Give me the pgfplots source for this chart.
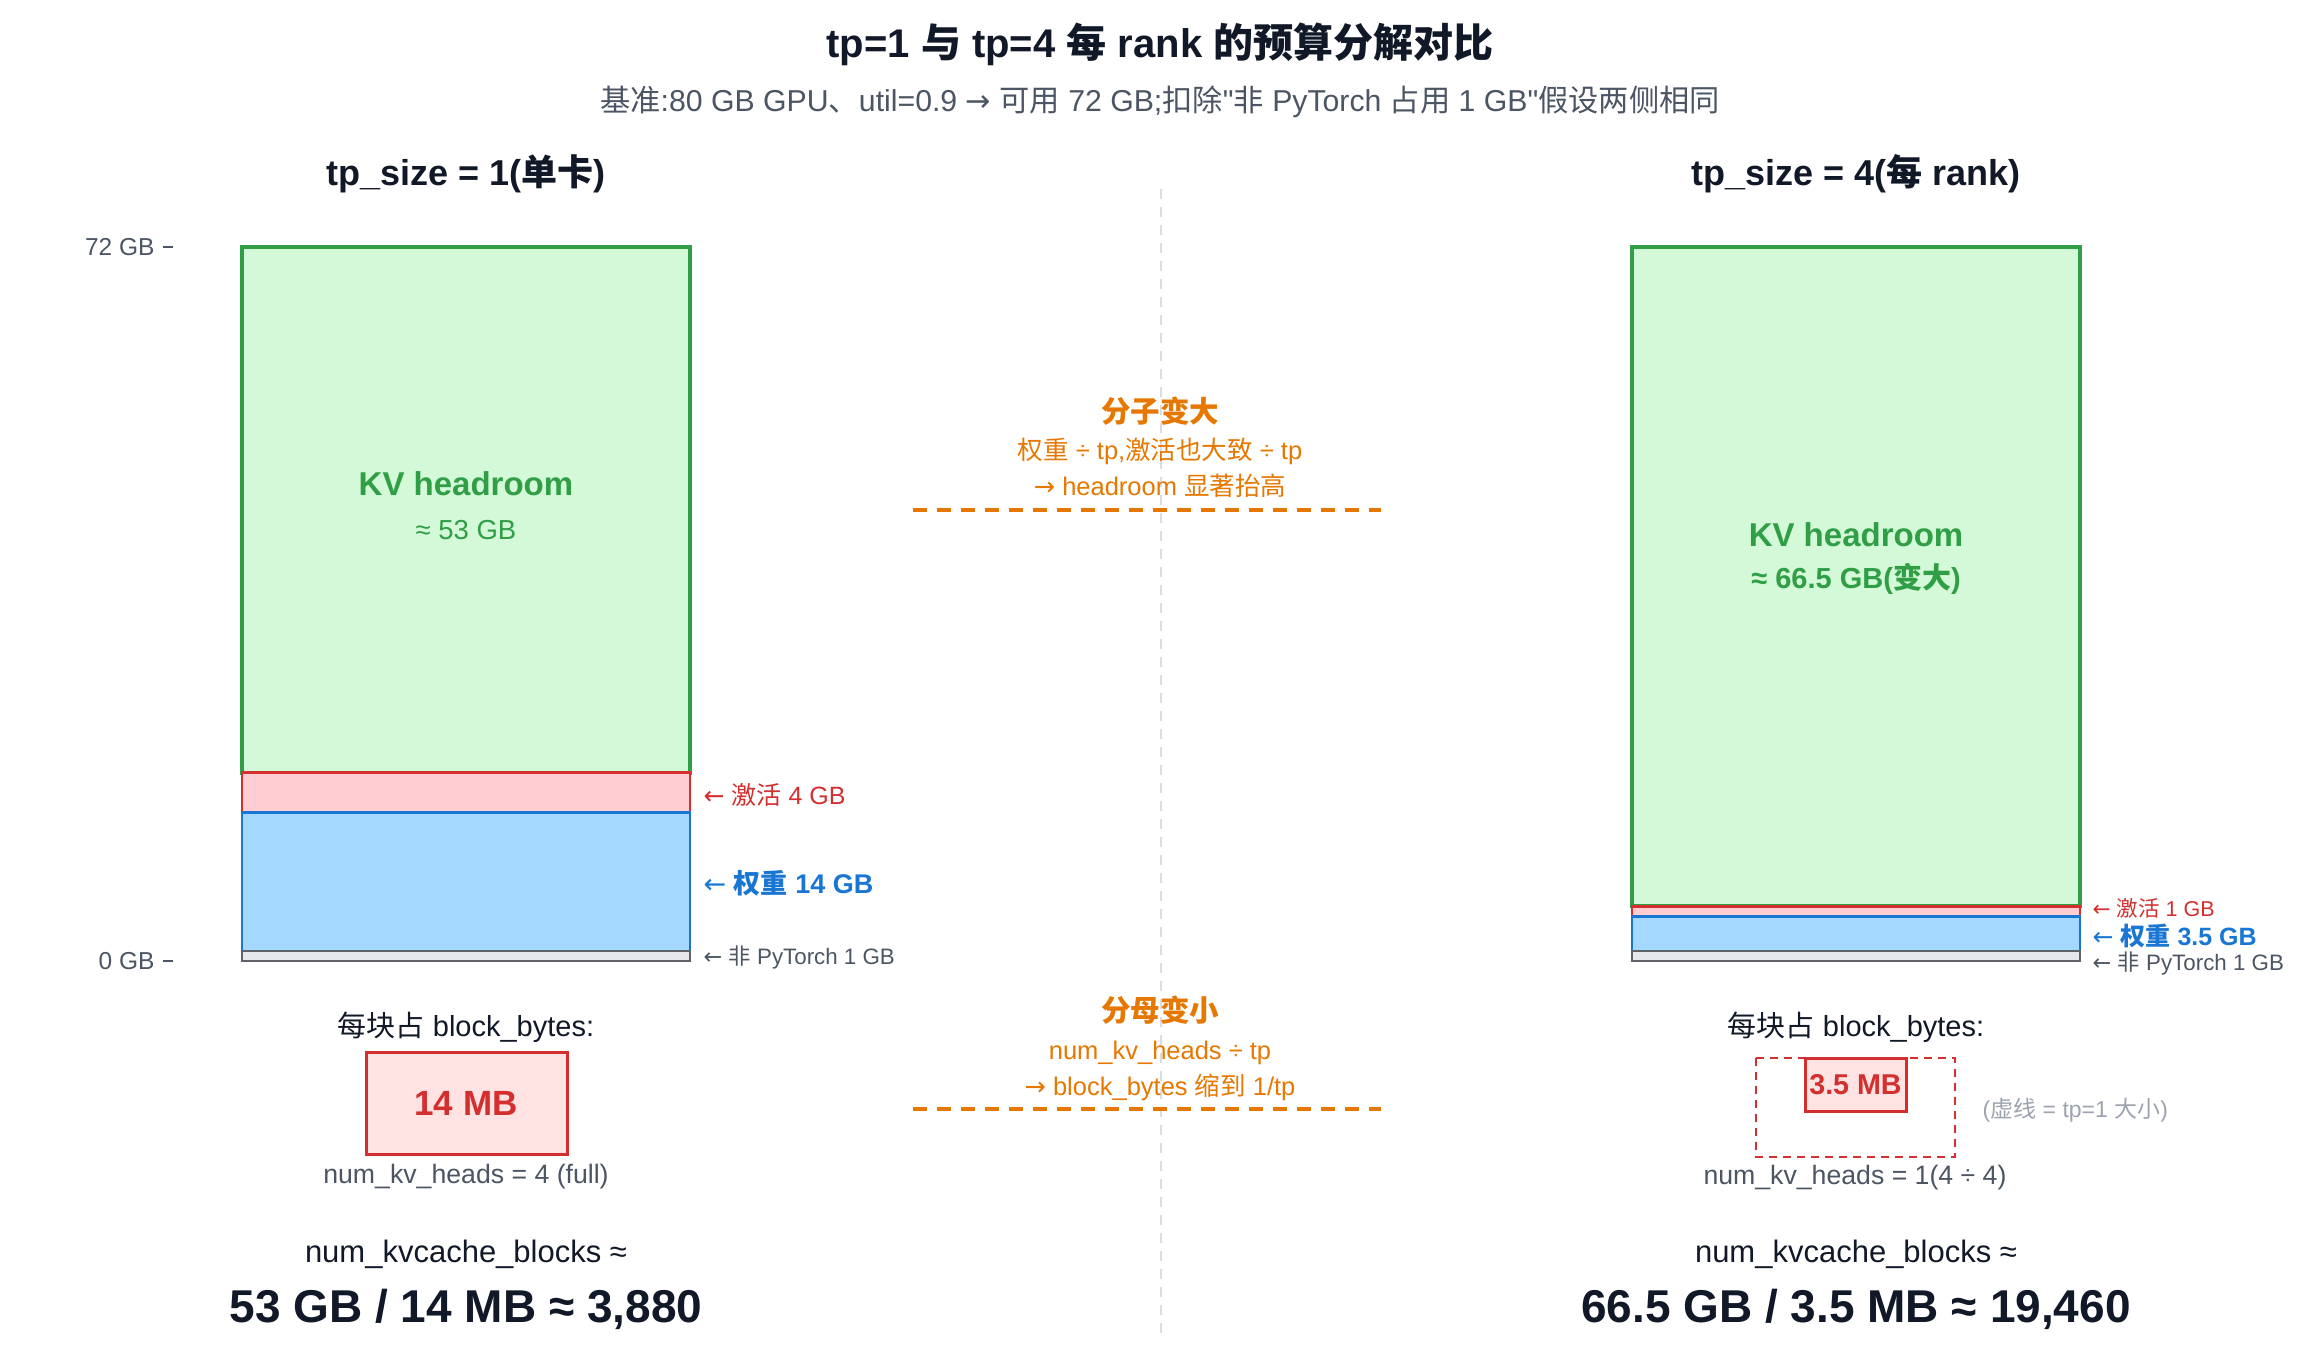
\documentclass[border=0pt]{standalone}
\usepackage{pgfplots}
\pgfplotsset{compat=1.18}
\usepackage{fontspec}
\setmainfont{Liberation Sans}
\newfontfamily\cjk{Noto Sans CJK SC}
\newfontfamily\arr{DejaVu Sans}
\newfontfamily\qf{Liberation Sans}[Ligatures=TeXOff]
\newcommand\C[1]{{\cjk #1}}
\newcommand\la{{\arr\fontseries{m}\selectfont ←}}
\newcommand\ra{{\arr\fontseries{m}\selectfont →}}
\newcommand\q{{\qf\symbol{34}}}
\newcommand\fs[1]{\fontsize{#1pt}{#1pt}\selectfont}
\definecolor{kvfill}{HTML}{D3F9D8}
\definecolor{kvdraw}{HTML}{2F9E44}
\definecolor{afill}{HTML}{FFCDD2}
\definecolor{adraw}{HTML}{D32F2F}
\definecolor{wfill}{HTML}{A5D8FF}
\definecolor{wdraw}{HTML}{1976D2}
\definecolor{npfill}{HTML}{E5E7EB}
\definecolor{npdraw}{HTML}{5F6368}
\definecolor{boxfill}{HTML}{FFE3E3}
\definecolor{titlec}{HTML}{111827}
\definecolor{grayt}{HTML}{4B5563}
\definecolor{lgrayt}{HTML}{9CA3AF}
\definecolor{orangec}{HTML}{E67700}
\definecolor{midline}{HTML}{D9DDE3}
\begin{document}
\begin{tikzpicture}
\begin{axis}[
  at={(51.9pt,-411pt)}, anchor=south west,
  scale only axis, width=642.9pt, height=411pt,
  xmin=173, xmax=2316, ymin=-41.244, ymax=96.908,
  clip=false,
  axis line style={draw=none},
  xtick=\empty,
  ytick={0,72}, yticklabels={0 GB,72 GB},
  ytick pos=left, tick align=outside, major tick length=3pt,
  ytick style={draw=grayt, line width=0.6pt},
  yticklabel style={font=\fs{7.35}, text=grayt, xshift=1pt},
  ybar stacked, bar width=448,
]
% stacked budget per GPU (GB): non-PyTorch, weights, activations, KV headroom
\addplot[fill=npfill, draw=npdraw, line width=0.75pt] coordinates {(466,1) (1856,1)};
\addplot[fill=wfill, draw=wdraw, line width=0.75pt] coordinates {(466,14) (1856,3.5)};
\addplot[fill=afill, draw=adraw, line width=0.75pt] coordinates {(466,4) (1856,1)};
\addplot[fill=kvfill, draw=kvdraw, line width=1.2pt] coordinates {(466,53) (1856,66.5)};
\end{axis}
\begin{scope}[x=0.3pt,y=-0.3pt, every node/.style={inner sep=0pt}]
\path (0,0) rectangle (2316,1370);
% title
\node[text=titlec, font=\fs{12}\bfseries] at (1160,44) {tp=1 \C{与} tp=4 \C{每} rank \C{的预算分解对比}};
\node[text=grayt, font=\fs{9.07}] at (1160,102) {\C{基准}:80 GB GPU\C{、}util=0.9 \ra{} \C{可用} 72 GB;\C{扣除}\q\C{非} PyTorch \C{占用} 1 GB\q\C{假设两侧相同}};
% headers
\node[text=titlec, font=\fs{10.8}\bfseries] at (466,174) {tp\_size = 1(\C{单卡})};
\node[text=titlec, font=\fs{10.8}\bfseries] at (1856,174) {tp\_size = 4(\C{每} rank)};
% center divider
\draw[midline, line width=0.6pt, dash pattern=on 3pt off 2.4pt] (1161,189) -- (1161,1337);
% KV labels
\node[text=kvdraw, font=\fs{9.9}\bfseries] at (466,484) {KV headroom};
\node[text=kvdraw, font=\fs{8.25}] at (466,530) {≈ 53 GB};
\node[text=kvdraw, font=\fs{9.9}\bfseries] at (1856,535) {KV headroom};
\node[text=kvdraw, font=\fs{8.7}\bfseries] at (1856,579) {≈ 66.5 GB(\C{变大})};
% left annotations
\node[anchor=west, text=adraw, font=\fs{7.5}] at (703,795) {\la{} \C{激活} 4 GB};
\node[anchor=west, text=wdraw, font=\fs{8.1}\bfseries] at (703,883) {\la{} \C{权重} 14 GB};
\node[anchor=west, text=grayt, font=\fs{6.7}] at (703,957) {\la{} \C{非} PyTorch 1 GB};
% right annotations
\node[anchor=west, text=adraw, font=\fs{6.45}] at (2092,908) {\la{} \C{激活} 1 GB};
\node[anchor=west, text=wdraw, font=\fs{7.5}\bfseries] at (2092,936) {\la{} \C{权重} 3.5 GB};
\node[anchor=west, text=grayt, font=\fs{6.7}] at (2092,963) {\la{} \C{非} PyTorch 1 GB};
% middle orange notes
\node[text=orangec, font=\fs{8.85}\bfseries] at (1160,411) {\C{分子变大}};
\node[text=orangec, font=\fs{7.65}] at (1160,451) {\C{权重} ÷ tp,\C{激活也大致} ÷ tp};
\node[text=orangec, font=\fs{7.65}] at (1160,486) {\ra{} headroom \C{显著抬高}};
\draw[orangec, line width=1.2pt, dash pattern=on 4.2pt off 3pt] (913,510) -- (1381,510);
\node[text=orangec, font=\fs{8.85}\bfseries] at (1160,1010) {\C{分母变小}};
\node[text=orangec, font=\fs{7.65}] at (1160,1053) {num\_kv\_heads ÷ tp};
\node[text=orangec, font=\fs{7.65}] at (1160,1087) {\ra{} block\_bytes \C{缩到} 1/tp};
\draw[orangec, line width=1.2pt, dash pattern=on 4.2pt off 3pt] (913,1109) -- (1381,1109);
% block bytes left
\node[text=titlec, font=\fs{8.7}] at (466,1027) {\C{每块占} block\_bytes:};
\draw[fill=boxfill, draw=adraw, line width=0.9pt] (366,1052) rectangle (567,1154);
\node[text=adraw, font=\fs{10.5}\bfseries] at (466,1103) {14 MB};
\node[text=grayt, font=\fs{8}] at (466,1177) {num\_kv\_heads = 4 (full)};
% block bytes right
\node[text=titlec, font=\fs{8.7}] at (1856,1027) {\C{每块占} block\_bytes:};
\draw[draw=adraw, line width=0.6pt, dash pattern=on 2.4pt off 1.8pt] (1756,1058) rectangle (1955,1157);
\draw[fill=boxfill, draw=adraw, line width=0.9pt] (1805,1058) rectangle (1906,1111);
\node[text=adraw, font=\fs{8.6}\bfseries] at (1855.5,1085) {3.5 MB};
\node[anchor=west, text=lgrayt, font=\fs{6.9}] at (1982,1110) {(\C{虚线} = tp=1 \C{大小})};
\node[text=grayt, font=\fs{8}] at (1855,1178) {num\_kv\_heads = 1(4 ÷ 4)};
% results
\node[text=titlec, font=\fs{9.3}] at (466,1254) {num\_kvcache\_blocks ≈};
\node[text=titlec, font=\fs{13.8}\bfseries] at (466,1309) {53 GB / 14 MB ≈ 3,880};
\node[text=titlec, font=\fs{9.3}] at (1856,1254) {num\_kvcache\_blocks ≈};
\node[text=titlec, font=\fs{13.8}\bfseries] at (1856,1309) {66.5 GB / 3.5 MB ≈ 19,460};
\end{scope}
\end{tikzpicture}
\end{document}
